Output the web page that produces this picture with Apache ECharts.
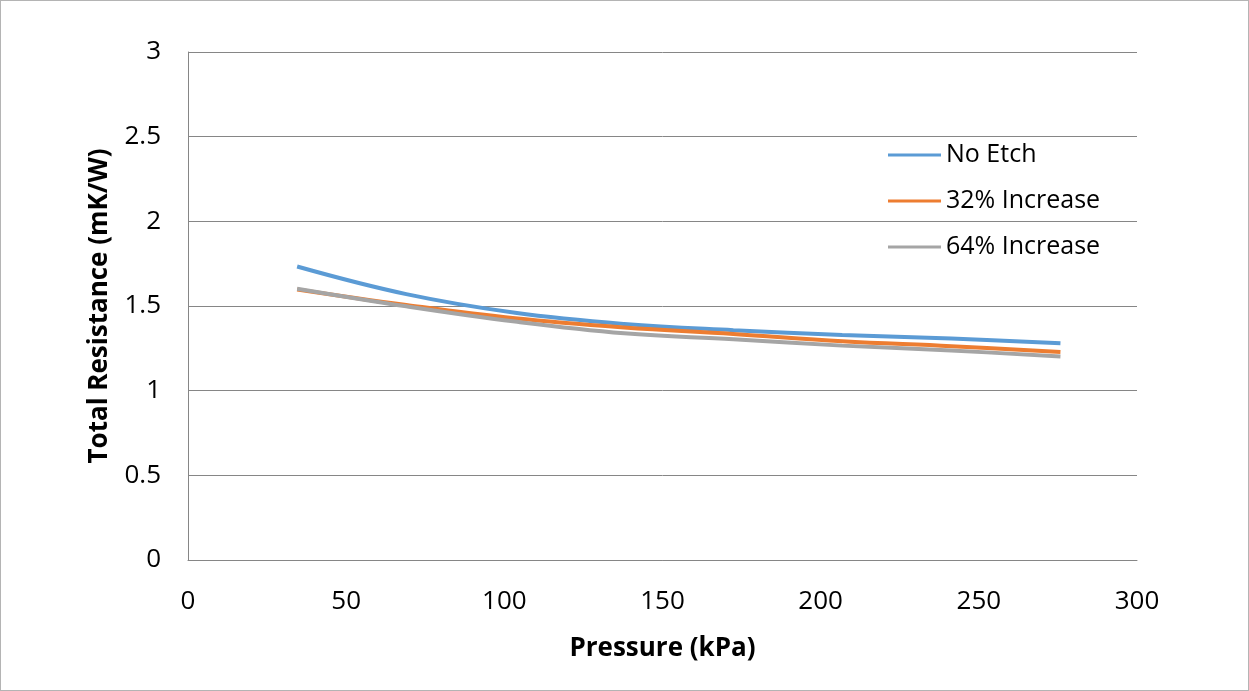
<!DOCTYPE html>
<html>
<head>
<meta charset="utf-8">
<script src="https://cdn.jsdelivr.net/npm/echarts@6/dist/echarts.min.js"></script>
<style>
html,body{margin:0;padding:0;background:#fff;}
#chart{width:1249px;height:691px;box-sizing:border-box;border:1px solid #b4b4b4;}
</style>
</head>
<body>
<div id="chart"></div>
<script>
const pressure = [34.5, 69, 103.4, 137.9, 172.4, 206.8, 241.3, 275.8];
const noEtch = [1.733, 1.57, 1.46, 1.394, 1.357, 1.329, 1.308, 1.28];
const inc32 = [1.598, 1.506, 1.427, 1.373, 1.335, 1.292, 1.263, 1.228];
const inc64 = [1.602, 1.498, 1.408, 1.339, 1.304, 1.266, 1.237, 1.202];
const seriesNames = ['No Etch', '32% Increase', '64% Increase'];
const colors = ['#5B9BD5', '#ED7D31', '#A5A5A5'];

function pairs(vals){ return pressure.map((p,i)=>[p, vals[i]]); }

const chart = echarts.init(document.getElementById('chart'));
const font = 'Open Sans';
chart.setOption({
  animation: false,
  grid: {left: 187, right: 111, top: 51, bottom: 130},
  legend: {
    orient: 'vertical', left: 887, top: 141, itemGap: 20, padding: 0,
    itemWidth: 53, itemHeight: 3, icon: 'rect',
    textStyle: {fontFamily: font, fontSize: 25, lineHeight: 26, color: '#000'},
    data: seriesNames
  },
  xAxis: {
    type: 'value', min: 0, max: 300, interval: 50,
    name: 'Pressure (kPa)', nameLocation: 'middle', nameGap: 76,
    nameTextStyle: {fontFamily: font, fontSize: 26, fontWeight: 'bold', color: '#000'},
    axisLine: {show: true, lineStyle: {color: '#868686', width: 1}},
    axisTick: {show: false},
    axisLabel: {fontFamily: font, fontSize: 26, color: '#000', margin: 29},
    splitLine: {show: false}
  },
  yAxis: {
    type: 'value', min: 0, max: 3, interval: 0.5,
    name: 'Total Resistance (mK/W)', nameLocation: 'middle', nameGap: 75,
    nameTextStyle: {fontFamily: font, fontSize: 26, fontWeight: 'bold', color: '#000'},
    axisLine: {show: true, lineStyle: {color: '#868686', width: 1}},
    axisTick: {show: false},
    axisLabel: {fontFamily: font, fontSize: 26, color: '#000', margin: 27},
    splitLine: {show: true, lineStyle: {color: '#868686', width: 1}}
  },
  series: [
    {name: seriesNames[0], type: 'line', data: pairs(noEtch), smooth: 0.4, symbol: 'none', color: colors[0], lineStyle: {width: 4}},
    {name: seriesNames[1], type: 'line', data: pairs(inc32), smooth: 0.4, symbol: 'none', color: colors[1], lineStyle: {width: 4}},
    {name: seriesNames[2], type: 'line', data: pairs(inc64), smooth: 0.4, symbol: 'none', color: colors[2], lineStyle: {width: 4}}
  ]
});
</script>
</body>
</html>
